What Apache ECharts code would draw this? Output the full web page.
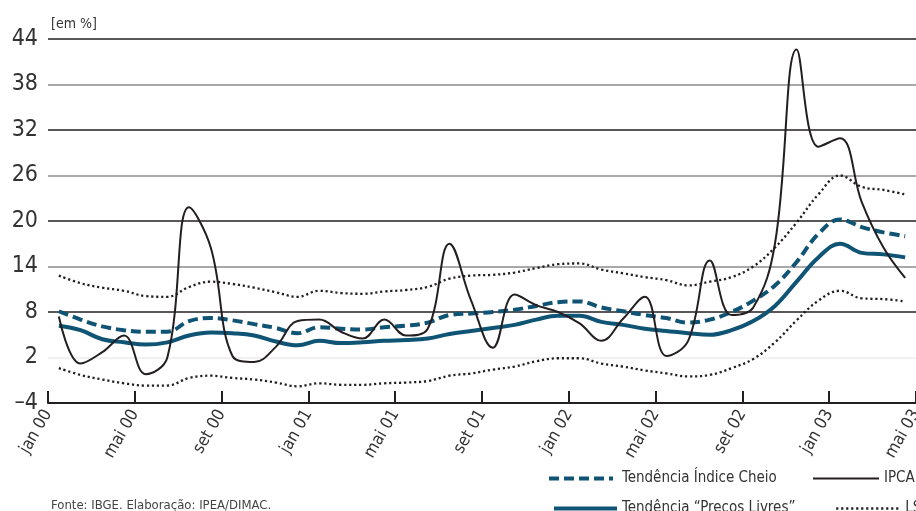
<!DOCTYPE html>
<html>
  <head>
    <meta charset="utf-8" />
    <title>IPCA e tendências</title>
    <script src="https://cdn.jsdelivr.net/npm/echarts@6/dist/echarts.min.js"></script>
    <style>
      html, body { margin: 0; padding: 0; background: #fff; }
    </style>
  </head>
  <body>
    <div id="main" style="width:916px;height:511px"></div>

    <script>
      // months jan 00 .. abr 03
      var months = [
        'jan 00','fev 00','mar 00','abr 00','mai 00','jun 00','jul 00','ago 00','set 00','out 00','nov 00','dez 00',
        'jan 01','fev 01','mar 01','abr 01','mai 01','jun 01','jul 01','ago 01','set 01','out 01','nov 01','dez 01',
        'jan 02','fev 02','mar 02','abr 02','mai 02','jun 02','jul 02','ago 02','set 02','out 02','nov 02','dez 02',
        'jan 03','fev 03','mar 03','abr 03'
      ];
      var tickLabels = ['jan 00','mai 00','set 00','jan 01','mai 01','set 01','jan 02','mai 02','set 02','jan 03','mai 03'];

      var ipca = [7.4, 1.2, 2.7, 4.9, -0.2, 2.0, 21.8, 16.5, 2.2, 1.4, 3.4, 6.8,
                  7.0, 5.4, 4.5, 7.0, 4.9, 5.8, 17.0, 9.5, 3.3, 10.3, 8.9, 8.0,
                  6.5, 4.2, 7.1, 10.0, 2.2, 4.2, 14.8, 7.6, 8.6, 17.0, 42.6, 29.8,
                  30.9, 22.5, 16.5, 12.5];
      var tendCheio = [8.1, 7.0, 6.1, 5.6, 5.4, 5.4, 6.8, 7.2, 6.9, 6.4, 5.9, 5.2,
                       6.0, 5.8, 5.7, 6.0, 6.2, 6.6, 7.6, 7.8, 8.0, 8.3, 8.8, 9.3,
                       9.4, 8.6, 8.1, 7.6, 7.2, 6.6, 7.0, 8.0, 9.5, 11.5, 14.6, 18.3,
                       20.2, 19.2, 18.5, 18.0];
      var tendLivres = [6.2, 5.6, 4.4, 4.0, 3.7, 4.0, 4.9, 5.3, 5.2, 4.9, 4.1, 3.6,
                        4.2, 3.9, 4.0, 4.2, 4.3, 4.5, 5.1, 5.5, 5.9, 6.3, 7.0, 7.5,
                        7.5, 6.7, 6.3, 5.8, 5.5, 5.2, 5.0, 5.6, 6.8, 8.8, 12.0, 15.2,
                        17.0, 15.8, 15.6, 15.2];
      var limSup = [12.8, 11.8, 11.2, 10.8, 10.1, 10.0, 11.3, 12.0, 11.7, 11.2, 10.6, 10.0,
                    10.8, 10.5, 10.4, 10.7, 10.9, 11.3, 12.4, 12.8, 12.9, 13.2, 13.8, 14.3,
                    14.4, 13.6, 13.1, 12.6, 12.2, 11.5, 12.0, 12.6, 14.0, 16.5, 19.8, 23.5,
                    26.0, 24.5, 24.1, 23.5];
      var limInf = [0.6, -0.3, -0.9, -1.4, -1.7, -1.7, -0.7, -0.4, -0.7, -0.9, -1.3, -1.8,
                    -1.4, -1.6, -1.6, -1.4, -1.3, -1.1, -0.4, -0.1, 0.4, 0.8, 1.5, 1.9,
                    1.9, 1.2, 0.8, 0.3, -0.1, -0.5, -0.3, 0.6, 1.8, 4.0, 6.9, 9.5,
                    10.8, 9.8, 9.7, 9.4];

      var font = "'Liberation Sans Narrow', 'DejaVu Sans Condensed', 'Open Sans', sans-serif";
      var teal = '#0f5474';
      var ink = '#231f20';

      // points sit in the middle of each month
      function pts(arr) {
        return arr.map(function (v, i) { return [i + 0.5, v]; });
      }

      // one legend per entry, placed like the original two-row key
      function legendAt(name, left, top, w, gap, lw) {
        return {
          data: [name], left: left, top: top, padding: 0,
          itemWidth: w, itemHeight: 14, itemGap: 0,
          itemStyle: { opacity: 0 },
          lineStyle: { width: lw },
          textStyle: { fontSize: 15, color: '#333', fontFamily: font, padding: [0, 0, 0, gap] }
        };
      }

      var myChart = echarts.init(document.getElementById('main'));

      var option = {
        animation: false,
        backgroundColor: '#fff',
        textStyle: { fontFamily: font },
        title: [
          { text: '[em %]', left: 46, top: 12,
            textStyle: { fontSize: 14, fontWeight: 'normal', color: '#333', fontFamily: font } },
          { text: 'Fonte: IBGE. Elaboração: IPEA/DIMAC.', left: 46, top: 494,
            textStyle: { fontSize: 13, fontWeight: 'normal', color: '#444', fontFamily: font } }
        ],
        legend: [
          legendAt('Tendência Índice Cheio', 547, 471, 64, 4, 4),
          legendAt('IPCA', 812, 471, 66, 0, 2),
          legendAt('Tendência “Precos Livres”', 552, 501, 63, 0, 4),
          legendAt('LS', 835, 501, 64, 0, 2.3)
        ],
        grid: { left: 48, right: 0, top: 39, bottom: 108, outerBoundsMode: 'none', containLabel: false },
        xAxis: {
          type: 'value',
          min: 0,
          max: 40,
          interval: 4,
          axisLine: { show: true, onZero: false, lineStyle: { color: ink, width: 2 } },
          axisTick: { show: true, inside: true, length: 12, lineStyle: { color: ink, width: 2 } },
          splitLine: { show: false },
          axisLabel: {
            rotate: 60,
            margin: 8,
            fontSize: 17,
            color: '#333',
            fontFamily: font,
            showMaxLabel: true,
            formatter: function (v) { return tickLabels[Math.round(v / 4)] || ''; }
          }
        },
        yAxis: {
          type: 'value',
          min: -4,
          max: 44,
          interval: 6,
          axisLine: { show: false },
          axisTick: { show: false },
          axisLabel: {
            fontSize: 23,
            color: '#333',
            margin: 10,
            fontFamily: font,
            formatter: function (v) { return v < 0 ? '\u2013' + Math.abs(v) : String(v); }
          },
          splitLine: {
            show: true,
            lineStyle: {
              width: 1.5,
              color: [ink, '#ececec', ink, '#8c8c8c', ink, '#8c8c8c', ink, '#8c8c8c', ink]
            }
          }
        },
        series: [
          { name: 'LS', type: 'line', data: pts(limSup), smooth: 0.4, symbol: 'none',
            lineStyle: { color: ink, width: 2.3, type: [2.2, 2.8] }, itemStyle: { color: ink } },
          { name: 'LI', type: 'line', data: pts(limInf), smooth: 0.4, symbol: 'none',
            lineStyle: { color: ink, width: 2.3, type: [2.2, 2.8] }, itemStyle: { color: ink } },
          { name: 'Tendência Índice Cheio', type: 'line', data: pts(tendCheio), smooth: 0.4, symbol: 'none',
            lineStyle: { color: teal, width: 4, type: [10, 5] }, itemStyle: { color: teal } },
          { name: 'Tendência “Precos Livres”', type: 'line', data: pts(tendLivres), smooth: 0.4, symbol: 'none',
            lineStyle: { color: teal, width: 4 }, itemStyle: { color: teal } },
          { name: 'IPCA', type: 'line', data: pts(ipca), smooth: 0.4, symbol: 'none',
            lineStyle: { color: ink, width: 2 }, itemStyle: { color: ink } }
        ]
      };

      myChart.setOption(option);
    </script>
  </body>
</html>
